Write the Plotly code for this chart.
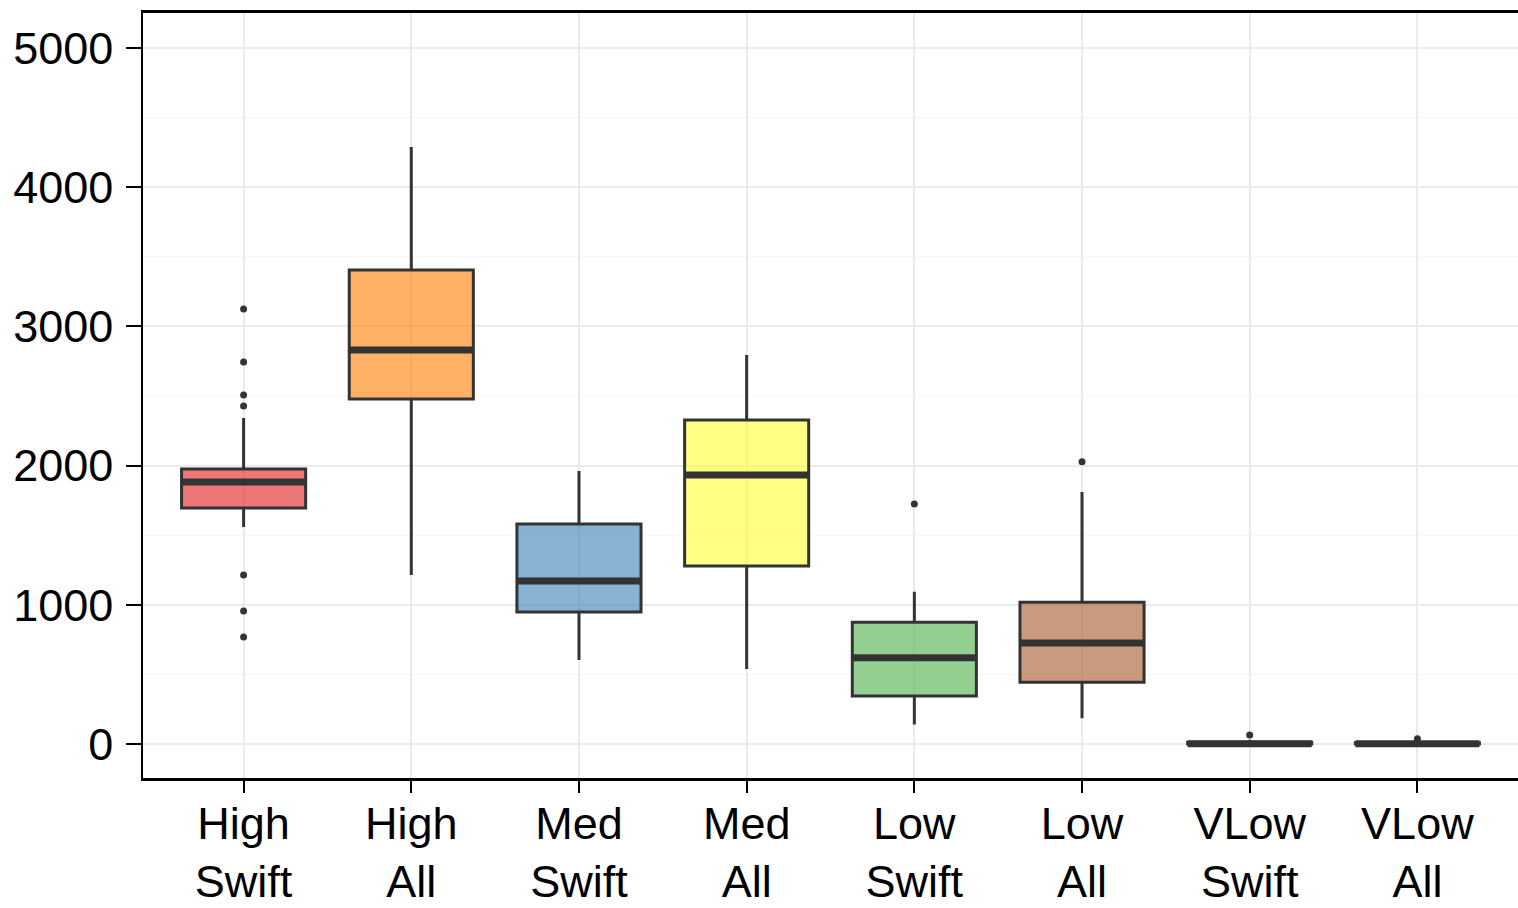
import plotly.graph_objects as go

# Summary statistics for each group
categories = ["High<br>Swift", "High<br>All", "Med<br>Swift", "Med<br>All",
              "Low<br>Swift", "Low<br>All", "VLow<br>Swift", "VLow<br>All"]
q1 = [1695, 2478, 948, 1279, 345, 443, 0, 0]
median = [1882, 2830, 1171, 1932, 620, 726, 2, 2]
q3 = [1976, 3405, 1580, 2328, 874, 1018, 12, 10]
lower_whisker = [1559, 1214, 603, 539, 141, 185, 0, 0]
upper_whisker = [2342, 4289, 1961, 2795, 1094, 1810, 30, 25]
outliers = [
    [3125, 2744, 2507, 2428, 1214, 955, 769],
    [],
    [],
    [],
    [1724],
    [2028],
    [65],
    [38],
]
fill_colors = [
    "rgba(228,26,28,0.6)",
    "rgba(255,127,0,0.6)",
    "rgba(55,126,184,0.6)",
    "rgba(255,255,51,0.6)",
    "rgba(77,175,74,0.6)",
    "rgba(166,86,40,0.6)",
    "rgba(247,129,191,0.6)",
    "rgba(153,153,153,0.6)",
]

positions = list(range(len(categories)))
box_width = 0.74
dark = "#333333"

fig = go.Figure()

for i, pos in enumerate(positions):
    fig.add_trace(go.Box(
        x=[pos],
        q1=[q1[i]], median=[median[i]], q3=[q3[i]],
        lowerfence=[lower_whisker[i]], upperfence=[upper_whisker[i]],
        width=box_width,
        whiskerwidth=0,
        fillcolor=fill_colors[i],
        line=dict(color=dark, width=3),
        boxpoints=False,
        showlegend=False,
        hoverinfo="skip",
    ))

# Thick median bars
mx, my = [], []
for pos, m in zip(positions, median):
    mx += [pos - box_width / 2, pos + box_width / 2, None]
    my += [m, m, None]
fig.add_trace(go.Scatter(
    x=mx, y=my, mode="lines",
    line=dict(color=dark, width=7),
    showlegend=False, hoverinfo="skip",
))

# Outlier points
ox, oy = [], []
for pos, pts in zip(positions, outliers):
    for v in pts:
        ox.append(pos)
        oy.append(v)
fig.add_trace(go.Scatter(
    x=ox, y=oy, mode="markers",
    marker=dict(color=dark, size=7),
    showlegend=False, hoverinfo="skip",
))

font = dict(family="Liberation Sans, Arial, sans-serif", color="black")

fig.update_layout(
    width=1518, height=908,
    margin=dict(l=143, r=0, t=13, b=130),
    paper_bgcolor="white",
    plot_bgcolor="white",
    font=font,
    xaxis=dict(
        range=[-0.6, 7.6],
        automargin=False,
        tickmode="array",
        tickvals=positions,
        ticktext=categories,
        tickfont=dict(size=45, **font),
        ticks="outside", ticklen=12, tickwidth=1.5, tickcolor="black",
        ticklabelstandoff=-8,
        showgrid=True, gridcolor="#EBEBEB", gridwidth=1.5,
        showline=True, linecolor="black", linewidth=2.5, mirror=True,
        zeroline=False,
    ),
    yaxis=dict(
        range=[-244, 5251],
        automargin=False,
        tickmode="array",
        tickvals=[0, 1000, 2000, 3000, 4000, 5000],
        tickfont=dict(size=45, **font),
        ticks="outside", ticklen=15, tickwidth=1.5, tickcolor="black",
        ticklabelstandoff=4,
        showgrid=True, gridcolor="#EBEBEB", gridwidth=1.5,
        minor=dict(tickvals=[500, 1500, 2500, 3500, 4500], showgrid=True,
                   gridcolor="#F6F6F6", gridwidth=1, ticks=""),
        showline=True, linecolor="black", linewidth=1.5,
        zeroline=False,
    ),
)

fig.write_html("out.html")
